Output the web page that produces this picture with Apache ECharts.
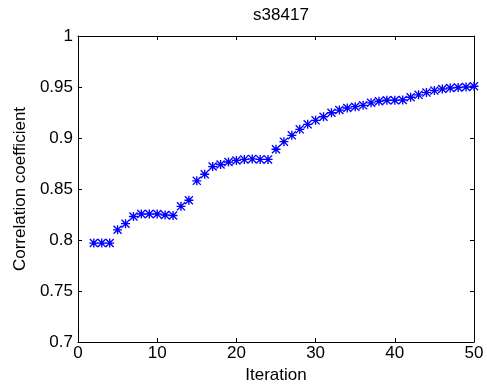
<!DOCTYPE html>
<html>
<head>
<meta charset="utf-8">
<script src="https://cdn.jsdelivr.net/npm/echarts@6/dist/echarts.min.js"></script>
<style>
  html, body { margin: 0; padding: 0; background: #fff; }
  #chart { width: 487px; height: 390px; }
</style>
</head>
<body>
<div id="chart"></div>
<script>
const iterations = [2, 3, 4, 5, 6, 7, 8, 9, 10, 11, 12, 13, 14, 15, 16, 17, 18, 19, 20, 21,
  22, 23, 24, 25, 26, 27, 28, 29, 30, 31, 32, 33, 34, 35, 36, 37, 38, 39, 40, 41,
  42, 43, 44, 45, 46, 47, 48, 49, 50];
const correlation = [0.797, 0.797, 0.797, 0.810, 0.816, 0.823, 0.8255, 0.8255, 0.8255, 0.8245,
  0.824, 0.833, 0.839, 0.858, 0.8645, 0.872, 0.874, 0.8765, 0.878, 0.879,
  0.8795, 0.879, 0.879, 0.889, 0.8964, 0.9026, 0.9085, 0.9134, 0.9173, 0.9208,
  0.9248, 0.9274, 0.9294, 0.9307, 0.932, 0.9345, 0.936, 0.937, 0.937, 0.9373,
  0.940, 0.9423, 0.9445, 0.9465, 0.948, 0.949, 0.9495, 0.950, 0.9507];
const yTicks = ['0.7', '0.75', '0.8', '0.85', '0.9', '0.95', '1'];

const FONT = 'Liberation Sans';
const FONT_SIZE = 17;
// 8-armed asterisk, all sub-paths wound the same way so overlaps stay filled
const STAR = 'path://M8.5 0H11.5V20H8.5Z M0 8.5H20V11.5H0Z M0 2.1L2.1 0L20 17.9L17.9 20Z M17.9 0L20 2.1L2.1 20L0 17.9Z';

const chart = echarts.init(document.getElementById('chart'));

const axisLine = { show: true, onZero: false, lineStyle: { color: '#000', width: 1 } };
const tickIn = { show: true, inside: true, length: 4, lineStyle: { color: '#000' } };

chart.setOption({
  animation: false,
  backgroundColor: '#fff',
  title: {
    text: 's38417',
    left: 276,
    top: 2,
    textAlign: 'center',
    textStyle: { fontFamily: FONT, fontSize: FONT_SIZE, fontWeight: 'normal', color: '#000' },
  },
  grid: { left: 78, right: 13, top: 36, bottom: 48, containLabel: false },
  xAxis: [
    {
      type: 'value',
      min: 0,
      max: 50,
      interval: 10,
      name: 'Iteration',
      nameLocation: 'middle',
      nameGap: 24,
      nameTextStyle: { fontFamily: FONT, fontSize: FONT_SIZE, color: '#000' },
      axisLine: axisLine,
      axisTick: tickIn,
      axisLabel: { fontFamily: FONT, fontSize: FONT_SIZE, color: '#000', margin: 3 },
      splitLine: { show: false },
    },
    {
      type: 'value',
      position: 'top',
      min: 0,
      max: 50,
      interval: 10,
      axisLine: axisLine,
      axisTick: tickIn,
      axisLabel: { show: false },
      splitLine: { show: false },
    },
  ],
  yAxis: [
    {
      type: 'value',
      min: 0.7,
      max: 1,
      interval: 0.05,
      name: 'Correlation coefficient',
      nameLocation: 'middle',
      nameGap: 45,
      nameTextStyle: { fontFamily: FONT, fontSize: FONT_SIZE, color: '#000' },
      axisLine: axisLine,
      axisTick: tickIn,
      axisLabel: {
        fontFamily: FONT,
        fontSize: FONT_SIZE,
        color: '#000',
        margin: 5,
        formatter: (v) => yTicks[Math.round((v - 0.7) / 0.05)],
      },
      splitLine: { show: false },
    },
    {
      type: 'value',
      position: 'right',
      min: 0.7,
      max: 1,
      interval: 0.05,
      axisLine: axisLine,
      axisTick: tickIn,
      axisLabel: { show: false },
      splitLine: { show: false },
    },
  ],
  series: [
    {
      type: 'scatter',
      xAxisIndex: 0,
      yAxisIndex: 0,
      symbol: STAR,
      symbolSize: 9,
      itemStyle: { color: '#0000ff', opacity: 1 },
      data: iterations.map((it, i) => [it, correlation[i]]),
    },
  ],
});
</script>
</body>
</html>
